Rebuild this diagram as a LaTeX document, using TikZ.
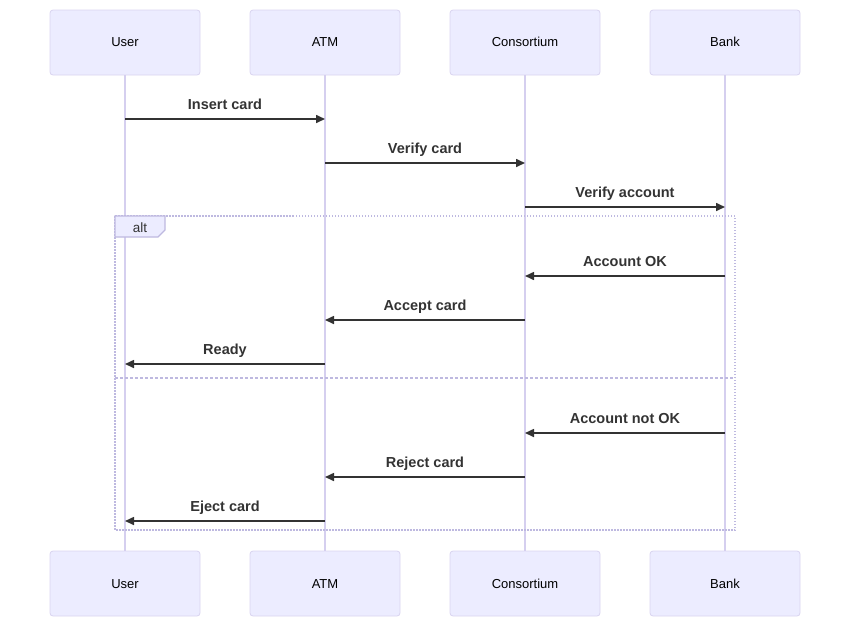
\documentclass[tikz,border=0pt]{standalone}
\usepackage{fontspec}
\setmainfont{Liberation Sans}
\usetikzlibrary{arrows.meta, positioning, calc}
\definecolor{actorfill}{HTML}{ECECFF}
\definecolor{actorline}{HTML}{D9D4F0}
\definecolor{lifeline}{HTML}{D5CFEF}
\definecolor{msgline}{HTML}{333333}
\definecolor{framecol}{HTML}{BEB9E0}

\begin{document}
\begin{tikzpicture}[
  x=1pt, y=-1pt,
  actor/.style={rectangle, draw=actorline, thick, fill=actorfill, rounded corners=3pt, minimum width=150pt, minimum height=65pt, align=center, text height=1.8ex, text depth=0.1ex, font=\fontsize{13}{15}\selectfont},
  life/.style={draw=lifeline, line width=1.6pt},
  msg/.style={draw=msgline, line width=1.6pt, -{Triangle[length=9pt,width=8pt]}},
  msglabel/.style={above=3pt, text=msgline, text height=1.6ex, text depth=0.4ex, font=\bfseries\fontsize{14.5}{17}\selectfont},
  frame/.style={draw=framecol, line width=1.2pt, dash pattern=on 1.5pt off 1.5pt},
  divider/.style={draw=framecol, line width=1.2pt, dash pattern=on 3pt off 2pt}
]
  \useasboundingbox (0,0) rectangle (850,627);

  % actors, top row
  \node[actor] (user) at (125,42.5) {User};
  \node[actor] (atm) at (325,42.5) {ATM};
  \node[actor] (cons) at (525,42.5) {Consortium};
  \node[actor] (bank) at (725,42.5) {Bank};

  % actors, bottom row
  \node[actor] (userB) at (125,583.5) {User};
  \node[actor] (atmB) at (325,583.5) {ATM};
  \node[actor] (consB) at (525,583.5) {Consortium};
  \node[actor] (bankB) at (725,583.5) {Bank};

  % lifelines
  \draw[life] (user) -- (userB);
  \draw[life] (atm) -- (atmB);
  \draw[life] (cons) -- (consB);
  \draw[life] (bank) -- (bankB);

  % alt frame
  \draw[frame] (115,216) rectangle (735,530);
  \draw[frame, solid, fill=actorfill] (115,216) -- (165,216) -- (165,230) -- (158,237) -- (115,237) -- cycle;
  \node[text=msgline, font=\fontsize{13.5}{15}\selectfont] (alt) at (140,227.5) {alt};
  \draw[divider] (115,378) -- (735,378);

  % messages
  \foreach \i/\y/\a/\b/\t in {1/119/user/atm/Insert card, 2/163/atm/cons/Verify card, 3/207/cons/bank/Verify account,
      4/276/bank/cons/Account OK, 5/320/cons/atm/Accept card, 6/364/atm/user/Ready,
      7/433/bank/cons/Account not OK, 8/477/cons/atm/Reject card, 9/521/atm/user/Eject card} {
    \coordinate (m\i s) at (\a |- 0,\y);
    \coordinate (m\i e) at (\b |- 0,\y);
    \draw[msg] (m\i s) -- node[msglabel] {\t} (m\i e);
  }
\end{tikzpicture}
\end{document}
